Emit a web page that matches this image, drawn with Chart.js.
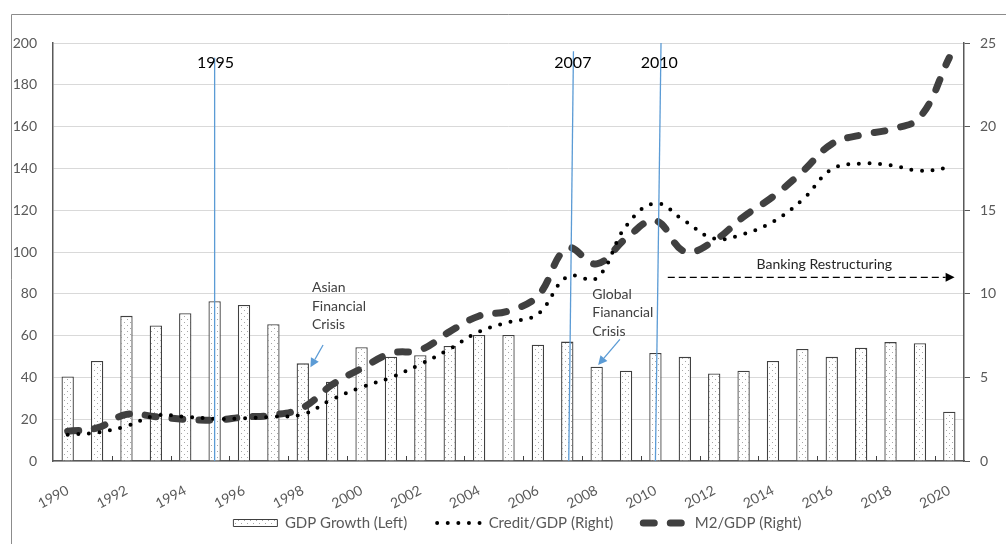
<!DOCTYPE html>
<html lang="en">
<head>
<meta charset="UTF-8">
<title>Credit/GDP, M2/GDP and GDP growth</title>
<style>
  html, body { margin: 0; padding: 0; background: #fff; }
  #wrap { width: 1006px; height: 544px; }
</style>
</head>
<body>
<div id="wrap"><canvas id="chart" width="1006" height="544"></canvas></div>
<script src="https://cdn.jsdelivr.net/npm/chart.js"></script>
<script>
// values
const years = ['1990', '1991', '1992', '1993', '1994', '1995', '1996', '1997', '1998', '1999',
  '2000', '2001', '2002', '2003', '2004', '2005', '2006', '2007', '2008', '2009',
  '2010', '2011', '2012', '2013', '2014', '2015', '2016', '2017', '2018', '2019', '2020'];
// bars, read on the 0-25 axis
const gdpGrowth = [5.06, 5.98, 8.68, 8.10, 8.84, 9.56, 9.33, 8.18, 5.84, 4.74,
  6.80, 6.24, 6.33, 6.88, 7.54, 7.54, 6.95, 7.14, 5.64, 5.40,
  6.46, 6.23, 5.23, 5.40, 5.98, 6.70, 6.23, 6.78, 7.11, 7.04, 2.95];
// lines, read on the 0-200 axis
const creditGdp = [12.6, 13.6, 16.7, 21.7, 21.2, 20.2, 20.4, 21.2, 22.3, 29.5,
  35.3, 40.0, 46.3, 53.6, 61.9, 66.4, 70.3, 88.2, 87.5, 112.4,
  123.3, 114.8, 106.4, 108.6, 114.5, 124.9, 139.6, 142.3, 141.5, 138.9, 140.3];
const m2Gdp = [14.2, 15.8, 22.3, 21.2, 19.9, 19.6, 21.0, 22.0, 25.5, 36.5,
  44.3, 51.5, 53.1, 61.9, 69.4, 71.8, 79.0, 101.8, 94.3, 106.5,
  115.0, 100.2, 105.4, 116.9, 126.5, 138.4, 151.7, 156.0, 158.7, 164.5, 193.0];
const seriesNames = ['GDP Growth (Left)', 'Credit/GDP (Right)', 'M2/GDP (Right)'];

// annotations, in category index / left-axis units
const events = [
  { label: '1995', at: 5, lean: 0, top: 193, labelAt: 5.03 },
  { label: '2007', at: 17.05, lean: 0.16, top: 196, labelAt: 17.19 },
  { label: '2010', at: 20, lean: 0.19, top: 200, labelAt: 20.13 }
];
const notes = [
  { lines: ['Asian', 'Financial', 'Crisis'], at: 8.31, val: 82.8, color: '#404040' },
  { lines: ['Global', 'Fianancial', 'Crisis'], at: 17.85, val: 79.8, color: '#404040' },
  { lines: ['Banking Restructuring'], at: 23.44, val: 94.0, color: '#262626' }
];
const blueArrows = [
  { from: [8.69, 55.5], to: [8.26, 44.8] },
  { from: [18.79, 58.2], to: [18.05, 45.9] }
];
const restructArrow = { from: [20.42, 87.9], to: [30.18, 87.9] };

Chart.defaults.font.family = 'Lato';
Chart.defaults.font.size = 14;
Chart.defaults.color = '#595959';

function dotPattern() {
  const c = document.createElement('canvas');
  c.width = 6; c.height = 6;
  const g = c.getContext('2d');
  g.fillStyle = '#fff';
  g.fillRect(0, 0, 6, 6);
  g.fillStyle = '#a6a6a6';
  g.fillRect(1, 1, 1, 1);
  g.fillRect(4, 4, 1, 1);
  return g.createPattern(c, 'repeat');
}

function arrow(ctx, x1, y1, x2, y2, head) {
  const a = Math.atan2(y2 - y1, x2 - x1);
  const bx = x2 - Math.cos(a) * head, by = y2 - Math.sin(a) * head;
  ctx.beginPath();
  ctx.moveTo(x1, y1);
  ctx.lineTo(bx, by);
  ctx.stroke();
  ctx.setLineDash([]);
  ctx.beginPath();
  ctx.moveTo(x2, y2);
  ctx.lineTo(bx + Math.sin(a) * head * 0.5, by - Math.cos(a) * head * 0.5);
  ctx.lineTo(bx - Math.sin(a) * head * 0.5, by + Math.cos(a) * head * 0.5);
  ctx.closePath();
  ctx.fill();
}

const decor = {
  id: 'decor',
  afterLayout(chart) {
    // legend sits a bit right of centre, with wide gaps between items
    const lg = chart.legend;
    lg.left += 14.5;
    lg.right += 14.5;
    lg.top = 523 - 30 - 7.5;
    lg.bottom = 544;
    lg.height = lg.bottom - lg.top;
  },
  beforeDraw(chart) {
    const ctx = chart.ctx;
    ctx.save();
    ctx.strokeStyle = '#8c8c8c';
    ctx.lineWidth = 1;
    ctx.beginPath();
    ctx.moveTo(11.5, 544);
    ctx.lineTo(11.5, 14.5);
    ctx.lineTo(1006, 14.5);
    ctx.stroke();
    ctx.restore();
  },
  afterDatasetsDraw(chart) {
    const { ctx, scales: { x, y } } = chart;
    const px = v => x.getPixelForValue(v);
    const py = v => y.getPixelForValue(v);
    ctx.save();

    // small inside tick marks on the year axis
    ctx.strokeStyle = '#404040';
    ctx.lineWidth = 1;
    for (let k = 2; k < years.length; k += 2) {
      const bx = Math.round(px(k - 0.5)) + 0.5;
      ctx.beginPath();
      ctx.moveTo(bx, y.bottom);
      ctx.lineTo(bx, y.bottom - 5);
      ctx.stroke();
    }

    // event lines
    ctx.strokeStyle = '#5b9bd5';
    ctx.lineWidth = 1.3;
    events.forEach(e => {
      ctx.beginPath();
      ctx.moveTo(px(e.at), py(0));
      ctx.lineTo(px(e.at + e.lean), py(e.top));
      ctx.stroke();
    });
    ctx.fillStyle = '#000';
    ctx.font = '16px Lato';
    ctx.textAlign = 'center';
    ctx.textBaseline = 'middle';
    events.forEach(e => ctx.fillText(e.label, px(e.labelAt), py(190.5)));

    // text notes
    ctx.font = '14px Lato';
    ctx.textAlign = 'left';
    notes.forEach(n => {
      ctx.fillStyle = n.color;
      n.lines.forEach((t, i) => ctx.fillText(t, px(n.at), py(n.val) + i * 18.5));
    });

    // arrows
    ctx.strokeStyle = '#5b9bd5';
    ctx.fillStyle = '#5b9bd5';
    ctx.lineWidth = 1.3;
    blueArrows.forEach(a => arrow(ctx, px(a.from[0]), py(a.from[1]), px(a.to[0]), py(a.to[1]), 9));
    ctx.strokeStyle = '#000';
    ctx.fillStyle = '#000';
    ctx.setLineDash([7, 4]);
    arrow(ctx, px(restructArrow.from[0]), py(restructArrow.from[1]),
      px(restructArrow.to[0]), py(restructArrow.to[1]), 9);
    ctx.restore();
  }
};

new Chart(document.getElementById('chart'), {
  type: 'bar',
  data: {
    labels: years,
    datasets: [
      {
        type: 'bar', label: seriesNames[0], data: gdpGrowth, yAxisID: 'y2',
        backgroundColor: dotPattern(), borderColor: '#404040', borderWidth: 1.3,
        barPercentage: 0.42, categoryPercentage: 1, order: 3
      },
      {
        type: 'line', label: seriesNames[1], data: creditGdp, yAxisID: 'y',
        borderColor: '#000', borderWidth: 4, borderDash: [0, 10.6], borderCapStyle: 'round',
        pointRadius: 0, tension: 0.4, fill: false, order: 1
      },
      {
        type: 'line', label: seriesNames[2], data: m2Gdp, yAxisID: 'y',
        borderColor: '#404040', borderWidth: 7, borderDash: [11, 16], borderCapStyle: 'round',
        pointRadius: 0, tension: 0.4, fill: false, order: 2
      }
    ]
  },
  options: {
    responsive: false,
    animation: false,
    layout: { padding: { left: 0, right: 0, top: 43, bottom: 1 } },
    plugins: {
      tooltip: { enabled: false },
      legend: {
        position: 'bottom',
        maxHeight: 30,
        labels: {
          usePointStyle: true,
          pointStyleWidth: 44,
          boxHeight: 7,
          padding: 30,
          font: { size: 15 },
          color: '#595959',
          generateLabels: chart => chart.data.datasets.map((ds, i) => ({
            text: ds.label,
            datasetIndex: i,
            fillStyle: ds.type === 'bar' ? ds.backgroundColor : 'rgba(0,0,0,0)',
            strokeStyle: ds.borderColor,
            lineWidth: ds.type === 'bar' ? 1 : ds.borderWidth,
            lineDash: ds.type === 'bar' ? [] : ds.borderDash,
            lineCap: ds.type === 'bar' ? 'butt' : 'round',
            pointStyle: ds.type === 'bar' ? 'rect' : 'line',
            fontColor: '#595959',
            hidden: false
          }))
        }
      }
    },
    scales: {
      x: {
        grid: { display: false },
        border: { color: '#595959', width: 1.5 },
        ticks: {
          autoSkip: false, minRotation: 28, maxRotation: 28, padding: 13,
          callback: (v, i) => (i % 2 === 0 ? years[i] : '')
        },
        afterFit: s => { s.height = 52; }
      },
      y: {
        position: 'left', min: 0, max: 200,
        ticks: { stepSize: 20, padding: 16 },
        grid: { color: '#d9d9d9', drawTicks: false },
        border: { color: '#595959', width: 1.5 },
        afterFit: s => { s.width = 53; }
      },
      y2: {
        position: 'right', min: 0, max: 25,
        ticks: { stepSize: 5, padding: 10 },
        grid: { drawOnChartArea: false, color: '#595959', tickLength: 6 },
        border: { color: '#595959', width: 1.5 },
        afterFit: s => { s.width = 42; }
      }
    }
  },
  plugins: [decor]
});
</script>
</body>
</html>
